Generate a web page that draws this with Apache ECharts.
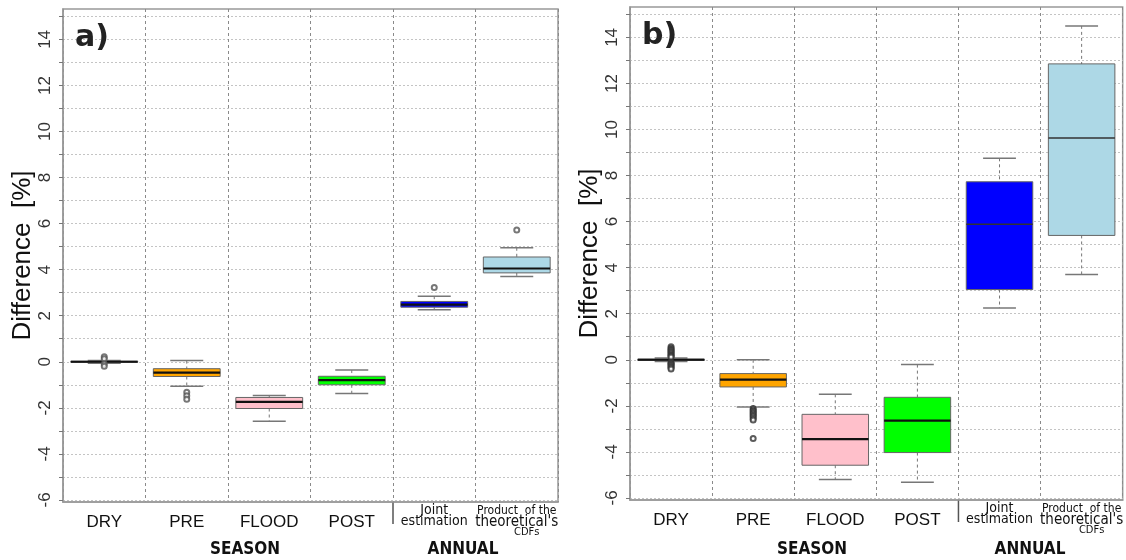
<!DOCTYPE html>
<html><head><meta charset="utf-8">
<script src="https://cdn.jsdelivr.net/npm/echarts@6/dist/echarts.min.js"></script>
<style>html,body{margin:0;padding:0;background:#fff}#c{width:1126px;height:560px}</style>
</head><body><div id="c"></div>
<script>
// ---------- data ----------
const categories = ['DRY', 'PRE', 'FLOOD', 'POST', 'Joint estimation', "Product of the theoretical's CDFs"];
const categoryLines = [['DRY'], ['PRE'], ['FLOOD'], ['POST'], ['Joint', 'estimation'], ['Product  of the', "theoretical's", 'CDFs']];
const boxColors = ['#a0a0a0', '#ffa500', '#ffc0cb', '#00ff00', '#0000ff', '#add8e6'];
const yLabelValues = [-6, -4, -2, 0, 2, 4, 6, 8, 10, 12, 14];
const yGridValues = [-6, -5, -4, -3, -2, -1, 0, 1, 2, 3, 4, 5, 6, 7, 8, 9, 10, 11, 12, 13, 14, 15];
const panelLabels = ['a)', 'b)'];
const groupLabels = ['SEASON', 'ANNUAL'];
const yName = 'Difference  [%]';

// [min, q1, median, q3, max] per category
const boxesA = [
  [-0.06, -0.025, 0, 0.025, 0.06],
  [-1.06, -0.64, -0.47, -0.3, 0.05],
  [-2.58, -2.03, -1.74, -1.55, -1.47],
  [-1.38, -1.0, -0.8, -0.63, -0.36],
  [2.26, 2.37, 2.48, 2.62, 2.85],
  [3.7, 3.86, 4.05, 4.55, 4.95]
];
const outliersA = [
  [0, 0.22], [0, 0.13], [0, -0.1], [0, -0.2],
  [1, -1.32], [1, -1.48], [1, -1.63],
  [4, 3.22],
  [5, 5.72]
];
const boxesB = [
  [-0.08, -0.03, 0, 0.03, 0.08],
  [-2.05, -1.18, -0.86, -0.6, 0.0],
  [-5.2, -4.58, -3.45, -2.37, -1.5],
  [-5.32, -4.03, -2.64, -1.63, -0.21],
  [2.25, 3.05, 5.89, 7.73, 8.75],
  [3.7, 5.4, 9.63, 12.85, 14.5]
];
const outliersB = [
  [0, 0.56], [0, 0.5], [0, 0.45], [0, 0.4], [0, 0.35], [0, 0.3], [0, 0.25], [0, 0.2], [0, 0.16], [0, 0.12],
  [0, -0.12], [0, -0.16], [0, -0.2], [0, -0.25], [0, -0.3], [0, -0.35], [0, -0.4],
  [1, -2.12], [1, -2.18], [1, -2.24], [1, -2.3], [1, -2.36], [1, -2.42], [1, -2.48], [1, -2.55], [1, -2.62],
  [1, -3.42]
];

// ---------- chart ----------
const chart = echarts.init(document.getElementById('c'), null, {renderer: 'canvas'});

function renderBox(params, api) {
  const cat = api.value(0);
  const lo = api.value(1), q1 = api.value(2), med = api.value(3), q3 = api.value(4), hi = api.value(5);
  const band = api.size([1, 0])[0];
  const bw = band * 0.81, cw = band * 0.4;
  const x = api.coord([cat, med])[0];
  const yLo = api.coord([cat, lo])[1], yQ1 = api.coord([cat, q1])[1], yMed = api.coord([cat, med])[1];
  const yQ3 = api.coord([cat, q3])[1], yHi = api.coord([cat, hi])[1];
  const wStyle = {stroke: '#777', lineWidth: 1, lineDash: [3, 3], fill: null};
  const cStyle = {stroke: '#777', lineWidth: 1.5, fill: null};
  const thin = cat >= 4 && (yQ1 - yQ3) > 40;
  return {
    type: 'group',
    children: [
      {type: 'line', shape: {x1: x, y1: yHi, x2: x, y2: yQ3}, style: wStyle},
      {type: 'line', shape: {x1: x, y1: yQ1, x2: x, y2: yLo}, style: wStyle},
      {type: 'line', shape: {x1: x - cw / 2, y1: yHi, x2: x + cw / 2, y2: yHi}, style: cStyle},
      {type: 'line', shape: {x1: x - cw / 2, y1: yLo, x2: x + cw / 2, y2: yLo}, style: cStyle},
      {type: 'rect', shape: {x: x - bw / 2, y: yQ3, width: bw, height: Math.max(1, yQ1 - yQ3)},
        style: {fill: boxColors[cat], stroke: '#666', lineWidth: 1}},
      {type: 'line', shape: {x1: x - bw / 2, y1: yMed, x2: x + bw / 2, y2: yMed},
        style: {stroke: thin ? '#333' : '#111', lineWidth: thin ? 1.5 : 2.2, fill: null}}
    ]
  };
}

function xLabelFmt(value, idx) {
  const lines = categoryLines[idx];
  if (lines.length === 1) return '{s|' + lines[0] + '}';
  if (lines.length === 2) return '{j|' + lines[0] + '}\n{j|' + lines[1] + '}';
  return '{p1|' + lines[0] + '}\n{p2|' + lines[1] + '}\n{p3|' + lines[2] + '}';
}

const cond = "'DejaVu Sans Condensed', 'DejaVu Sans', sans-serif";
const xRich = {
  s: {fontSize: 17, lineHeight: 34, fontFamily: "'Liberation Sans', Arial, sans-serif", color: '#111'},
  j: {fontSize: 14, lineHeight: 11, fontFamily: cond, color: '#111'},
  p1: {fontSize: 12, lineHeight: 12, fontFamily: cond, color: '#111'},
  p2: {fontSize: 15, lineHeight: 11, fontFamily: cond, color: '#111'},
  p3: {fontSize: 11, lineHeight: 9, fontFamily: cond, color: '#111', padding: [0, 0, 0, 20]}
};

function makeX(gi) {
  return {
    type: 'category', gridIndex: gi, data: categories, boundaryGap: true,
    axisLine: {show: true, onZero: false, lineStyle: {color: '#999', width: 1.5}},
    axisTick: {show: false},
    axisLabel: {interval: 0, margin: 3, formatter: xLabelFmt, rich: xRich},
    splitLine: {show: true, interval: 0, lineStyle: {type: [3, 3], color: '#8a8a8a', width: 1}}
  };
}
function makeY(gi) {
  return {
    type: 'value', gridIndex: gi, min: -6.09, max: 15.32,
    name: yName, nameLocation: 'middle', nameGap: 26,
    nameTextStyle: {fontSize: 26, fontFamily: "'Liberation Sans', Arial, sans-serif", color: '#111'},
    axisLine: {show: true, onZero: false, lineStyle: {color: '#999', width: 1.5}},
    axisTick: {show: true, length: 4, customValues: yGridValues, lineStyle: {color: '#777'}},
    axisLabel: {customValues: yLabelValues, rotate: 90, margin: 9, fontSize: 17,
      fontFamily: "'Liberation Sans', Arial, sans-serif", color: '#333'},
    splitLine: {show: true, lineStyle: {type: [2, 2], color: '#c4c4c4', width: 1}}
  };
}

const option = {
  animation: false,
  backgroundColor: '#fff',
  grid: [
    {left: 63, top: 9, width: 495, height: 493, show: true, borderColor: '#999', borderWidth: 1.5, backgroundColor: 'transparent'},
    {left: 630, top: 7, width: 495, height: 493, show: true, borderColor: '#999', borderWidth: 1.5, backgroundColor: 'transparent'}
  ],
  xAxis: [makeX(0), makeX(1)],
  yAxis: [makeY(0), makeY(1)],
  series: [
    {type: 'custom', xAxisIndex: 0, yAxisIndex: 0, renderItem: renderBox,
      encode: {x: 0, y: [1, 2, 3, 4, 5]}, data: boxesA.map((b, i) => [i].concat(b)), z: 3},
    {type: 'scatter', xAxisIndex: 0, yAxisIndex: 0, data: outliersA, symbol: 'emptyCircle', symbolSize: 5,
      itemStyle: {color: '#555', borderColor: '#555', borderWidth: 1}, z: 4},
    {type: 'custom', xAxisIndex: 1, yAxisIndex: 1, renderItem: renderBox,
      encode: {x: 0, y: [1, 2, 3, 4, 5]}, data: boxesB.map((b, i) => [i].concat(b)), z: 3},
    {type: 'scatter', xAxisIndex: 1, yAxisIndex: 1, data: outliersB, symbol: 'emptyCircle', symbolSize: 5,
      itemStyle: {color: '#333', borderColor: '#333', borderWidth: 1}, z: 4}
  ]
};
chart.setOption(option);

// annotations positioned from the axes
const gfx = [];
[0, 1].forEach(gi => {
  const xa = {xAxisIndex: gi}, ya = {yAxisIndex: gi};
  const px = c => chart.convertToPixel(xa, c);
  const yBottom = chart.convertToPixel(ya, -6.09);
  const yTop = chart.convertToPixel(ya, 15.32);
  const left = px(categories[0]) - (px(categories[1]) - px(categories[0])) / 2;
  const sep = (px(categories[3]) + px(categories[4])) / 2;
  gfx.push({type: 'line', shape: {x1: sep, y1: yBottom, x2: sep, y2: yBottom + 22},
    style: {stroke: '#555', lineWidth: 1.5}});
  gfx.push({type: 'text', x: left + 12, y: yTop + 14,
    style: {text: panelLabels[gi], fontSize: 30, fontWeight: 'bold', fontFamily: "'DejaVu Sans', sans-serif", fill: '#222'}});
  gfx.push({type: 'text', x: left + 182, y: 550,
    style: {text: groupLabels[0], fontSize: 17, fontWeight: 'bold', fontFamily: cond, fill: '#111', align: 'center', verticalAlign: 'middle'}});
  gfx.push({type: 'text', x: left + 400, y: 550,
    style: {text: groupLabels[1], fontSize: 17, fontWeight: 'bold', fontFamily: cond, fill: '#111', align: 'center', verticalAlign: 'middle'}});
});
chart.setOption({graphic: gfx});
</script></body></html>
